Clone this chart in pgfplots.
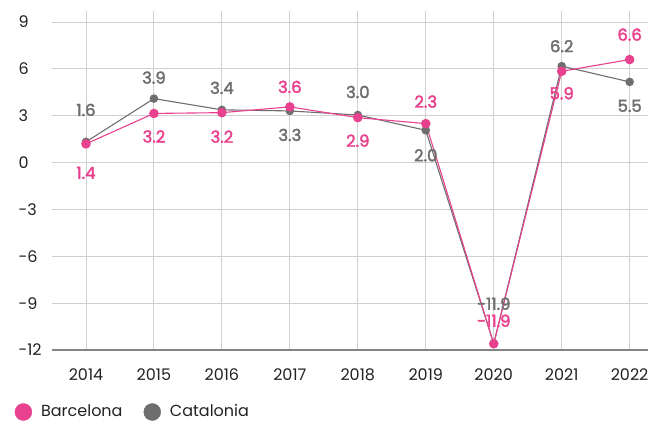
\documentclass[border=0pt]{standalone}
\usepackage{pgfplots}
\pgfplotsset{compat=1.18}
\usepackage{pgfplotstable}
\usepackage{fontspec}
\setmainfont{Poppins}
\newfontfamily\labfont[FakeBold=2.2]{Poppins}
\definecolor{bcn}{HTML}{E8418E}
\definecolor{cat}{HTML}{6E6E6E}
\definecolor{gridc}{HTML}{D0D0D0}
\definecolor{txt}{HTML}{222222}

% year, plotted position, label text, label offset (bp, + = below)
\pgfplotstableread{
x y lab dy
2014 1.2 1.4 29
2015 3.15 3.2 23
2016 3.2 3.2 24
2017 3.57 3.6 -20
2018 2.88 2.9 23
2019 2.5 2.3 -22
2020 -11.6 -11.9 -23
2021 5.85 5.9 22
2022 6.6 6.6 -25
}\bcntable
\pgfplotstableread{
x y lab dy
2014 1.33 1.6 -32
2015 4.1 3.9 -21
2016 3.38 3.4 -22
2017 3.31 3.3 24
2018 3.05 3.0 -23
2019 2.07 2.0 25
2020 -11.6 -11.9 -40
2021 6.18 6.2 -20
2022 5.17 5.5 24
}\cattable

\begin{document}
\fontsize{16bp}{19bp}\selectfont
\begin{tikzpicture}
\useasboundingbox (0,0) rectangle (665bp,421bp);
\begin{axis}[
  at={(52bp,71bp)}, anchor=south west,
  scale only axis, width=596bp, height=339bp,
  xmin=2013.5, xmax=2022.27,
  ymin=-12, ymax=9.71,
  xtick={2014,...,2022},
  xticklabels={2014,2015,2016,2017,2018,2019,2020,2021,2022},
  ytick={-12,-9,-6,-3,0,3,6,9},
  yticklabels={-12,-9,-6,-3,0,3,6,9},
  grid=major,
  major grid style={gridc, line width=0.9bp},
  axis x line*=bottom,
  axis y line*=left,
  y axis line style={draw=none},
  x axis line style={draw=cat!85, line width=1.6bp, -},
  major tick length=0pt,
  tick style={draw=none},
  xticklabel style={text=txt, yshift=-13bp},
  yticklabel style={text=txt, anchor=west, xshift=-39bp},
  clip=false,
  legend columns=2,
  legend style={draw=none, fill=none, at={(-37.5bp,-62bp)}, anchor=west,
    text=txt, inner sep=0pt,
    /tikz/every odd column/.append style={column sep=9bp},
    /tikz/every even column/.append style={column sep=21bp},
    nodes={inner sep=0pt}},
  legend cell align=left,
  nodes near coords={\pgfplotspointmeta},
  point meta=explicit symbolic,
  visualization depends on={\thisrow{dy} \as \dy},
  every node near coord/.append style={anchor=center, yshift=-\dy bp, font=\labfont\fontsize{16.5bp}{19bp}\selectfont},
]
\addlegendimage{legend image code/.code={\fill[bcn] (8.5bp,0bp) circle (8.5bp);}}
\addlegendentry{Barcelona}
\addlegendimage{legend image code/.code={\fill[cat] (8.5bp,0bp) circle (8.5bp);}}
\addlegendentry{Catalonia}
\addplot[cat, line width=1.1bp, mark=*, mark size=3.7bp, mark options={fill=cat, draw=cat},
  every node near coord/.append style={text=cat}, forget plot]
  table[x=x, y=y, meta=lab] {\cattable};
\addplot[bcn, line width=1.1bp, mark=*, mark size=4.2bp, mark options={fill=bcn, draw=bcn},
  every node near coord/.append style={text=bcn}, forget plot]
  table[x=x, y=y, meta=lab] {\bcntable};
\end{axis}
\end{tikzpicture}
\end{document}
